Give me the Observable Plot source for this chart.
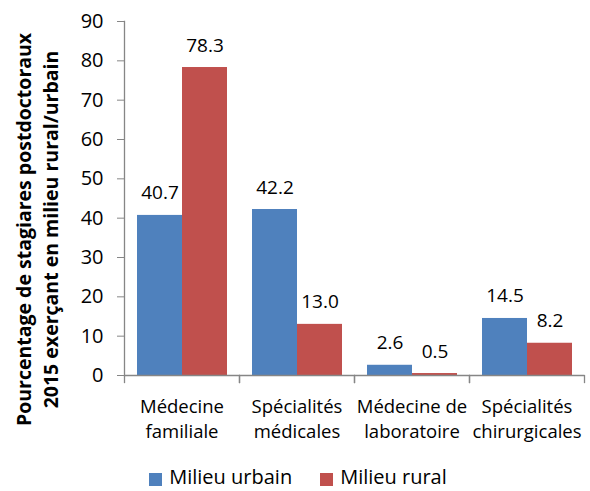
<!DOCTYPE html>
<html><head><meta charset="utf-8">
<script src="https://cdn.jsdelivr.net/npm/d3@7"></script>
<script src="https://cdn.jsdelivr.net/npm/@observablehq/plot@0.6"></script>
<style>
body{margin:0;background:#fff;font-family:"Open Sans",sans-serif;overflow:hidden;position:relative;width:590px;height:491px;}
#chart svg{display:block;}
#legend{position:absolute;left:0;width:590px;top:463px;height:27px;display:flex;align-items:center;justify-content:center;line-height:normal;padding-left:6px;box-sizing:border-box;font-size:20px;color:#000;}
.item{display:flex;align-items:center;margin:0 14px;}
.sw{width:13px;height:13px;margin-right:7px;position:relative;top:3px;}
</style>
</head><body>
<div id="chart"></div>
<div id="legend"></div>
<script>
const categories = ["Médecine\nfamiliale", "Spécialités\nmédicales", "Médecine de\nlaboratoire", "Spécialités\nchirurgicales"];
const seriesNames = ["Milieu urbain", "Milieu rural"];
const urbain = [40.7, 42.2, 2.6, 14.5];
const rural = [78.3, 13.0, 0.5, 8.2];
const yTicks = [0, 10, 20, 30, 40, 50, 60, 70, 80, 90];
const colors = ["#4F81BD", "#C0504D"];
const yTitle = ["Pourcentage de stagiares postdoctoraux", "2015 exerçant en milieu rural/urbain"];

const rows = [];
categories.forEach((c, i) => {
  rows.push({category: c, series: seriesNames[0], value: urbain[i]});
  rows.push({category: c, series: seriesNames[1], value: rural[i]});
});

const axisGray = "#868686";
const H = 455, MT = 21, MB = 80;

const chart = Plot.plot({
  width: 590,
  height: H,
  marginTop: MT,
  marginBottom: MB,
  marginLeft: 123,
  marginRight: 5,
  style: {fontFamily: "Open Sans", fontSize: "19px", color: "#000", background: "#fff"},
  fx: {domain: categories, paddingInner: 0, paddingOuter: 0, label: null, axis: null},
  x: {domain: seriesNames, paddingInner: 0, paddingOuter: 0.255, axis: null},
  y: {domain: [0, 90], label: null},
  color: {domain: seriesNames, range: colors},
  marks: [
    Plot.barY(rows, {fx: "category", x: "series", y: "value", fill: "series"}),
    Plot.text(rows, {fx: "category", x: "series", y: "value", text: d => d.value.toFixed(1), lineAnchor: "bottom", dy: -16, fontSize: 19, fill: "#000"}),
    Plot.ruleY([0], {stroke: axisGray, strokeWidth: 1.3}),
    // group boundary ticks below the x axis
    Plot.frame({anchor: "left", stroke: axisGray, strokeWidth: 1.3, insetTop: H - MT - MB, insetBottom: -7}),
    Plot.frame({anchor: "right", stroke: axisGray, strokeWidth: 1.3, insetTop: H - MT - MB, insetBottom: -7}),
    Plot.frame({anchor: "left", facetAnchor: "left", stroke: axisGray, strokeWidth: 1.3}),
    Plot.axisY({ticks: yTicks, tickSize: 7, tickPadding: 14, stroke: axisGray, fill: "#000", fontSize: 20, label: null, tickFormat: d => String(d)}),
    Plot.axisFx({anchor: "bottom", tickSize: 0, tickPadding: 20, lineHeight: 1.33, fontSize: 18.5, fill: "#000", label: null}),
    Plot.text([yTitle.join("\n")], {facetAnchor: "left", frameAnchor: "left", rotate: -90, textAnchor: "middle", lineAnchor: "middle", lineHeight: 1.4, fontWeight: "bold", fontSize: 19.5, fill: "#000", dx: -89, dy: 31})
  ]
});

document.getElementById("chart").appendChild(chart);

const legend = d3.select("#legend");
seriesNames.forEach((s, i) => {
  const it = legend.append("div").attr("class", "item");
  it.append("div").attr("class", "sw").style("background", colors[i]);
  it.append("span").text(s);
});
</script>
</body></html>
